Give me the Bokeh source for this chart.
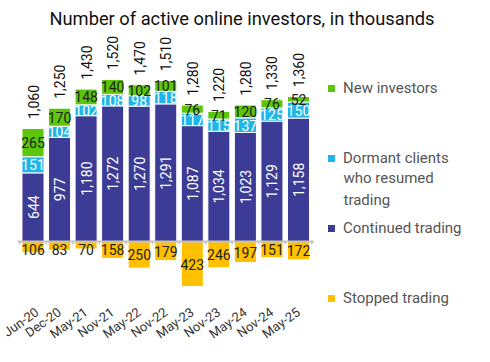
import numpy as np
from bokeh.plotting import figure
from bokeh.models import ColumnDataSource, Range1d, FixedTicker, Legend, LegendItem, Label
from bokeh.core.properties import value
from bokeh.embed import file_html
from bokeh.resources import INLINE

categories = ["Jun-20", "Dec-20", "May-21", "Nov-21", "May-22", "Nov-22",
              "May-23", "Nov-23", "May-24", "Nov-24", "May-25"]
continued = [644, 977, 1180, 1272, 1270, 1291, 1087, 1034, 1023, 1129, 1158]
dormant = [151, 104, 102, 108, 98, 118, 117, 115, 137, 125, 150]
new_inv = [265, 170, 148, 140, 102, 101, 76, 71, 120, 76, 52]
stopped = [106, 83, 70, 158, 250, 179, 423, 246, 197, 151, 172]
totals = [1060, 1250, 1430, 1520, 1470, 1510, 1280, 1220, 1280, 1330, 1360]

GREEN = "#5CC60A"
CYAN = "#1FB5E8"
NAVY = "#3C3C96"
YELLOW = "#FFC000"
FONT = "Roboto"

x = np.arange(len(categories))
c = np.array(continued)
d = np.array(dormant)
n = np.array(new_inv)
s = np.array(stopped)

src = ColumnDataSource(dict(
    x=x,
    c_top=c, d_top=c + d, n_top=c + d + n, s_bot=-s,
    zero=np.zeros(len(x)),
    c_y=c / 2, d_y=c + d / 2, n_y=c + d + n / 2,
    s_y=-np.maximum(s / 2, 75), t_y=np.array(totals) + 88,
    c_lab=[f"{v:,}" for v in continued],
    d_lab=[f"{v:,}" for v in dormant],
    n_lab=[f"{v:,}" for v in new_inv],
    s_lab=[f"{v:,}" for v in stopped],
    t_lab=[f"{v:,}" for v in totals],
))

px_per_unit_x = 26.55
x_start = -32.5 / px_per_unit_x
FW = 482
FH = 277

p = figure(frame_width=FW, frame_height=FH, output_backend="svg", toolbar_location=None,
           x_range=Range1d(x_start, x_start + FW / px_per_unit_x),
           y_range=Range1d(-647, 1951),
           min_border_left=0, min_border_right=0, min_border_top=0, min_border_bottom=0,
           title="Number of active online investors, in thousands")
p.title.align = "left"
p.title.offset = 49
p.title.text_font = FONT
p.title.text_font_size = "18.3px"
p.title.text_font_style = "normal"
p.title.text_color = "#111111"
p.outline_line_color = None
p.grid.visible = False
p.yaxis.visible = False

W = 0.83
r_c = p.vbar(x="x", bottom="zero", top="c_top", width=W, source=src, fill_color=NAVY, line_color="white", line_width=1)
r_d = p.vbar(x="x", bottom="c_top", top="d_top", width=W, source=src, fill_color=CYAN, line_color="white", line_width=1)
r_n = p.vbar(x="x", bottom="d_top", top="n_top", width=W, source=src, fill_color=GREEN, line_color="white", line_width=1)
r_s = p.vbar(x="x", bottom="s_bot", top="zero", width=W, source=src, fill_color=YELLOW, line_color="white", line_width=1)

# baseline with small boundary ticks
bx = np.arange(len(categories) + 1) - 0.5
p.segment(x0=[-0.58], y0=[0], x1=[len(categories) - 0.42], y1=[0], line_color="#C4C4C4", line_width=2)
p.segment(x0=bx, y0=np.zeros(len(bx)), x1=bx, y1=np.full(len(bx), -28.0), line_color="#C4C4C4", line_width=1.5)

fs = "14px"
p.text(x="x", y="c_y", text="c_lab", source=src, angle=np.pi / 2, text_align="center", text_baseline="middle",
       text_color="white", text_font=value(FONT), text_font_size=fs)
p.text(x="x", y="d_y", text="d_lab", source=src, text_align="center", text_baseline="middle",
       text_color="white", text_font=value(FONT), text_font_size=fs)
p.text(x="x", y="n_y", text="n_lab", source=src, text_align="center", text_baseline="middle",
       text_color="#222222", text_font=value(FONT), text_font_size=fs)
p.text(x="x", y="s_y", text="s_lab", source=src, text_align="center", text_baseline="middle",
       text_color="#222222", text_font=value(FONT), text_font_size=fs)
p.text(x="x", y="t_y", text="t_lab", source=src, angle=np.pi / 2, text_align="left", text_baseline="middle",
       text_color="#111111", text_font=value(FONT), text_font_size=fs)

ax = p.xaxis[0]
ax.ticker = FixedTicker(ticks=list(x))
ax.major_label_overrides = {int(i): cat for i, cat in zip(x, categories)}
ax.major_label_orientation = 0.62
ax.axis_line_color = None
ax.major_tick_line_color = None
ax.minor_tick_line_color = None
ax.major_label_text_font = FONT
ax.major_label_text_font_size = "13px"
ax.major_label_text_color = "#333333"
ax.major_label_standoff = -6

LX = 326
legend_specs = [
    ("New investors", r_n, 213),
    ("Dormant clients", r_d, 143),
    ("Continued trading", r_c, 73),
    ("Stopped trading", r_s, 3),
]
for label, rend, ly in legend_specs:
    lg = Legend(items=[LegendItem(label=label, renderers=[rend])], location=(LX, ly),
                border_line_color=None, background_fill_alpha=0, padding=0, margin=0,
                glyph_width=10, glyph_height=10, label_standoff=7,
                label_text_font=FONT, label_text_font_size="15px", label_text_color="#555555")
    p.add_layout(lg, "center")

cont = Label(x=LX + 17, y=141.6, x_units="screen", y_units="screen", text="who resumed\ntrading",
             text_baseline="top", text_align="left", text_line_height=1.21,
             text_font=FONT, text_font_size="15px", text_color="#555555")
p.add_layout(cont)

open("out.html", "w").write(file_html(p, INLINE))
